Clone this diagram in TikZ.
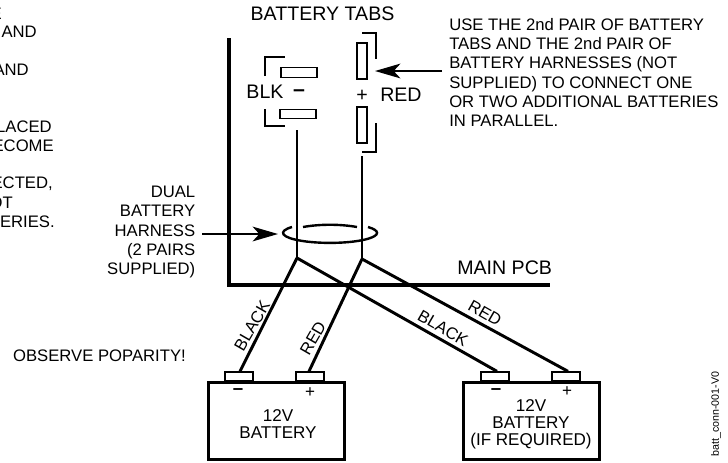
\documentclass[tikz,border=0pt]{standalone}
\usepackage{fontspec}
\setmainfont{Liberation Sans}
\usetikzlibrary{arrows.meta}
\tikzset{
  x=0.75pt,y=-0.75pt,
  lbl/.style={inner sep=0pt,font=\fontsize{12.5pt}{14.5pt}\selectfont},
  big/.style={inner sep=0pt,font=\fontsize{14.7pt}{17pt}\selectfont},
  lblr/.style={lbl,anchor=east},
  wire/.style={line width=2.2pt},
  pcb/.style={line width=3pt},
  loopw/.style={line width=1.8pt},
  tabbox/.style={draw,line width=0.9pt,fill=white,inner sep=0pt},
  brk/.style={line width=0.8pt},
  harrow/.style={line width=1.8pt,-{Stealth[length=19pt,width=11pt,inset=5pt]}},
  batbox/.style={draw,line width=2.2pt,fill=white,inner sep=0pt},
  term/.style={draw,line width=1pt,fill=white,inner sep=0pt},
  battxt/.style={inner sep=0pt,align=center,font=\fontsize{12.8pt}{12.6pt}\selectfont},
  minusb/.style={inner sep=0pt,font=\fontsize{14pt}{14pt}\selectfont\bfseries},
  minusl/.style={inner sep=0pt,font=\fontsize{16pt}{16pt}\selectfont\bfseries},
}
\begin{document}
\begin{tikzpicture}
\useasboundingbox (0,0) rectangle (728,462);
% clipped notes
\node[lblr] (n1) at (2,14) {E};
\node[lblr] (n2) at (37,32) {AND};
\node[lblr] (n3) at (29,70) {AND};
\node[lblr] (n4) at (52,127) {LACED};
\node[lblr] (n5) at (54,146) {ECOME};
\node[lblr] (n6) at (53,184) {ECTED,};
\node[lblr] (n7) at (13,203) {OT};
\node[lblr] (n8) at (55,222) {TERIES.};
% PCB
\coordinate (p1) at (229,38);
\coordinate (p2) at (229,285);
\coordinate (p3) at (550,285);
\draw[pcb,line join=miter] (p1) -- (p2) -- (p3);
\node[big,anchor=west] (pcbl) at (457,268) {MAIN PCB};
% title
\node[big] (title) at (322.5,14) {BATTERY TABS};
% tabs
\node[tabbox,minimum width=27pt,minimum height=7pt] (bt1) at (299,72.5) {};
\node[tabbox,minimum width=27pt,minimum height=7pt] (bt2) at (298,114) {};
\node[tabbox,minimum width=7.5pt,minimum height=27pt] (rt1) at (362,61) {};
\node[tabbox,minimum width=7.5pt,minimum height=27pt] (rt2) at (362,125) {};
\draw[brk] (265,76) -- (265,57) -- (285,57);
\draw[brk] (265,109) -- (265,126) -- (285,126);
\draw[brk] (362,33) -- (376,33) -- (376,59);
\draw[brk] (376,123) -- (376,152) -- (362,152);
\node[big] (blk) at (265,92) {BLK};
\node[minusl] (minus) at (299,93) {–};
\node[big] (plus) at (362,96) {+};
\node[big,anchor=west] (red) at (380,95) {RED};
% note
\node[lbl,anchor=west,align=left] (note) at (449,72.5) {USE THE 2nd PAIR OF BATTERY\\TABS AND THE 2nd PAIR OF\\BATTERY HARNESSES (NOT\\SUPPLIED) TO CONNECT ONE\\OR TWO ADDITIONAL BATTERIES\\IN PARALLEL.};
\coordinate (na) at (442,71);
\coordinate (nb) at (375,71);
\draw[harrow] (na) -- (nb);
% wires
\coordinate (j1) at (297,258);
\coordinate (j2) at (362,259);
\coordinate (w1) at (297,130);
\coordinate (w2) at (362,156);
\draw[wire] (w1) -- (j1);
\draw[wire] (w2) -- (j2);
% harness loop
\draw[loopw] (292,227) arc[start angle=144,end angle=396,x radius=35.25pt,y radius=7.5pt];
\draw[loopw] (303,227) .. controls (320,224) and (340,224) .. (357,227);
\node[lbl,align=right,anchor=east] (harn) at (195.5,232) {DUAL\\BATTERY\\HARNESS\\(2 PAIRS\\SUPPLIED)};
\coordinate (ha) at (202,234);
\coordinate (hb) at (278,234);
\draw[harrow] (ha) -- (hb);
% batteries
\node[batbox,minimum width=102pt,minimum height=57.75pt,anchor=north west] (b1) at (207,381) {};
\node[batbox,minimum width=102pt,minimum height=57.75pt,anchor=north west] (b2) at (462,381) {};
\node[term,minimum width=21pt,minimum height=6.75pt] (b1m) at (239,376.5) {};
\node[term,minimum width=21pt,minimum height=6.75pt] (b1p) at (310,376.5) {};
\node[term,minimum width=21pt,minimum height=6.75pt] (b2m) at (495,376.5) {};
\node[term,minimum width=21pt,minimum height=6.75pt] (b2p) at (566,376.5) {};
\draw[wire] (j1) -- ([xshift=0.75pt]b1m.north);
\draw[wire] (j2) -- ([xshift=-0.75pt]b1p.north);
\draw[wire] (j1) -- ([xshift=1.5pt]b2m.north);
\draw[wire] (j2) -- ([xshift=1.5pt]b2p.north);
\node[minusb] (m1) at (238,392) {–};
\node[battxt] (p1t) at (310,393) {+};
\node[minusb] (m2) at (496,392) {–};
\node[battxt] (p2t) at (567,392) {+};
\node[battxt] (t1) at (278,424) {12V\\BATTERY};
\node[battxt] (t2) at (531,424) {12V\\BATTERY\\(IF REQUIRED)};
% wire labels
\node[lbl,rotate=60] (lb1) at (252,326) {BLACK};
\node[lbl,rotate=60] (lr1) at (313,338) {RED};
\node[lbl,rotate=-30] (lb2) at (443,328) {BLACK};
\node[lbl,rotate=-30] (lr2) at (485,313) {RED};
\node[lblr] (pop) at (186,356) {OBSERVE POPARITY!};
\node[lbl,rotate=90,font=\fontsize{8pt}{9pt}\selectfont] (code) at (716,414) {batt\_conn-001-V0};
\end{tikzpicture}
\end{document}
